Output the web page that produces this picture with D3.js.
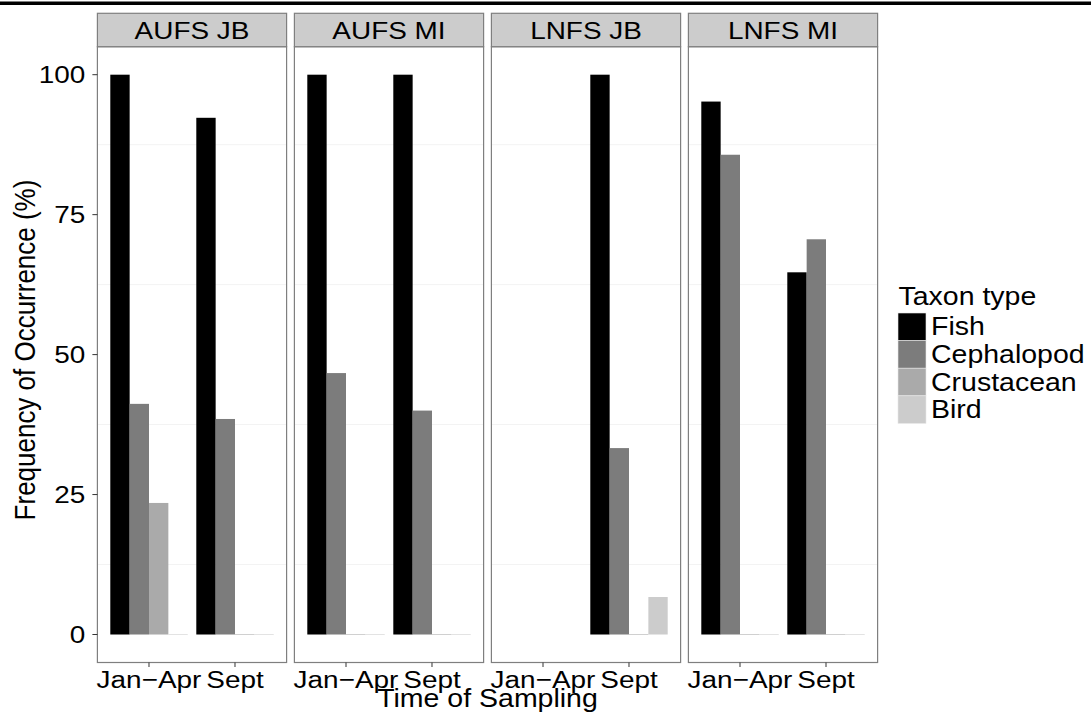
<!DOCTYPE html>
<html>
<head>
<meta charset="utf-8">
<script src="https://cdn.jsdelivr.net/npm/d3@7"></script>
<style>
  html, body { margin: 0; padding: 0; background: #fff; }
  svg { display: block; }
  text { font-family: "Liberation Sans", Arial, Helvetica, sans-serif; fill: #000; }
</style>
</head>
<body>
<svg id="chart" width="1091" height="717"></svg>
<script>
// Facets, sampling periods and taxa
const facets = ["AUFS JB", "AUFS MI", "LNFS JB", "LNFS MI"];
const times = ["Jan\u2212Apr", "Sept"];
const taxa = ["Fish", "Cephalopod", "Crustacean", "Bird"];

// Frequency of occurrence (%) per facet x period, in order:
// AUFS JB Jan-Apr, AUFS JB Sept, AUFS MI Jan-Apr, AUFS MI Sept, LNFS JB ..., LNFS MI ...
// null = no samples in that period
const fishPct       = [100,  92.3, 100,  100,  null, 100,  95.2, 64.7];
const cephalopodPct = [41.2, 38.5, 46.7, 40.0, null, 33.3, 85.7, 70.6];
const crustaceanPct = [23.5, 0,    0,    0,    null, 0,    0,    0];
const birdPct       = [0,    0,    0,    0,    null, 6.7,  0,    0];

const yTicks = [0, 25, 50, 75, 100];
const yMinor = [12.5, 37.5, 62.5, 87.5];
const taxonFills = ["#000000", "#7c7c7c", "#aaaaaa", "#cccccc"];

const seriesByTaxon = [fishPct, cephalopodPct, crustaceanPct, birdPct];
const rows = [];
facets.forEach((f, fi) => {
  times.forEach((t, ti) => {
    const idx = fi * times.length + ti;
    taxa.forEach((tx, k) => {
      const v = seriesByTaxon[k][idx];
      if (v !== null) rows.push({ facet: f, time: t, taxon: tx, value: v });
    });
  });
});

const SX = 1.14; // horizontal text stretch
const svg = d3.select("#chart");

function label(g, x, y, str, size, anchor, rot) {
  return g.append("text")
    .attr("transform", `translate(${x},${y}) scale(${SX},1)` + (rot ? ` rotate(${rot})` : ""))
    .attr("font-size", size)
    .attr("text-anchor", anchor || "start")
    .text(str);
}

// top rule
svg.append("rect").attr("x", 0).attr("y", 1.5).attr("width", 1091).attr("height", 3.5).attr("fill", "#000");

const panelTop = 46.7, panelBottom = 662.5, stripTop = 13.3;
const fx = d3.scaleBand().domain(facets).range([97.4, 877.6]).paddingInner(0.0396).paddingOuter(0);
const y = d3.scaleLinear().domain([-5, 105]).range([panelBottom, panelTop]);
const color = d3.scaleOrdinal().domain(taxa).range(taxonFills);

facets.forEach(f => {
  const left = fx(f), w = fx.bandwidth();
  const g = svg.append("g");
  const x = d3.scaleBand().domain(times).range([left, left + w]).paddingInner(0.1).paddingOuter(0.15);
  const xi = d3.scaleBand().domain(taxa).range([0, x.bandwidth()]).padding(0);

  // panel background + minor grid
  g.append("rect").attr("x", left).attr("y", panelTop).attr("width", w).attr("height", panelBottom - panelTop).attr("fill", "#fff");
  g.selectAll("line.minor").data(yMinor).join("line")
    .attr("x1", left).attr("x2", left + w)
    .attr("y1", d => y(d)).attr("y2", d => y(d))
    .attr("stroke", "#f3f3f3").attr("stroke-width", 1);

  // bars
  const data = rows.filter(r => r.facet === f);
  g.selectAll("rect.bar").data(data).join("rect")
    .attr("x", d => x(d.time) + xi(d.taxon))
    .attr("width", xi.bandwidth())
    .attr("y", d => d.value > 0 ? y(d.value) : y(0) - 0.5)
    .attr("height", d => d.value > 0 ? y(0) - y(d.value) : 1)
    .attr("fill", d => color(d.taxon))
    .attr("opacity", d => d.value > 0 ? 1 : 0.55);

  // panel border
  g.append("rect").attr("x", left).attr("y", panelTop).attr("width", w).attr("height", panelBottom - panelTop)
    .attr("fill", "none").attr("stroke", "#7f7f7f").attr("stroke-width", 1.2);

  // strip
  g.append("rect").attr("x", left).attr("y", stripTop).attr("width", w).attr("height", panelTop - stripTop)
    .attr("fill", "#cccccc").attr("stroke", "#7f7f7f").attr("stroke-width", 1.2);
  label(g, left + w / 2, 38.7, f, 24.5, "middle");

  // x axis
  const xAxis = g.append("g");
  times.forEach(t => {
    const cx = x(t) + x.bandwidth() / 2;
    xAxis.append("line").attr("x1", cx).attr("x2", cx).attr("y1", panelBottom).attr("y2", panelBottom + 4.5)
      .attr("stroke", "#333").attr("stroke-width", 1);
    label(xAxis, cx, 687.5, t, 24.5, "middle");
  });
});

// y axis
const ya = svg.append("g");
const axisX = fx(facets[0]);
yTicks.forEach(v => {
  ya.append("line").attr("x1", axisX - 5).attr("x2", axisX).attr("y1", y(v)).attr("y2", y(v))
    .attr("stroke", "#333").attr("stroke-width", 1);
  label(ya, axisX - 12, y(v) + 8.6, String(v), 24.5, "end");
});

// axis titles
label(svg, (fx(facets[0]) + fx(facets[3]) + fx.bandwidth()) / 2, 707, "Time of Sampling", 25, "middle");
label(svg, 34.5, 350, "Frequency of Occurrence (%)", 26, "middle", -90);

// legend
const lg = svg.append("g");
label(lg, 898.5, 305, "Taxon type", 25, "start");
const keyH = 27.6, keyTop = 313;
taxa.forEach((tx, i) => {
  const ky = keyTop + i * keyH;
  lg.append("rect").attr("x", 898).attr("y", ky).attr("width", 28).attr("height", keyH)
    .attr("fill", color(tx)).attr("stroke", "#e6e6e6").attr("stroke-width", 0.6);
  label(lg, 931, ky + keyH / 2 + 8.6, tx, 25, "start");
});
</script>
</body>
</html>
